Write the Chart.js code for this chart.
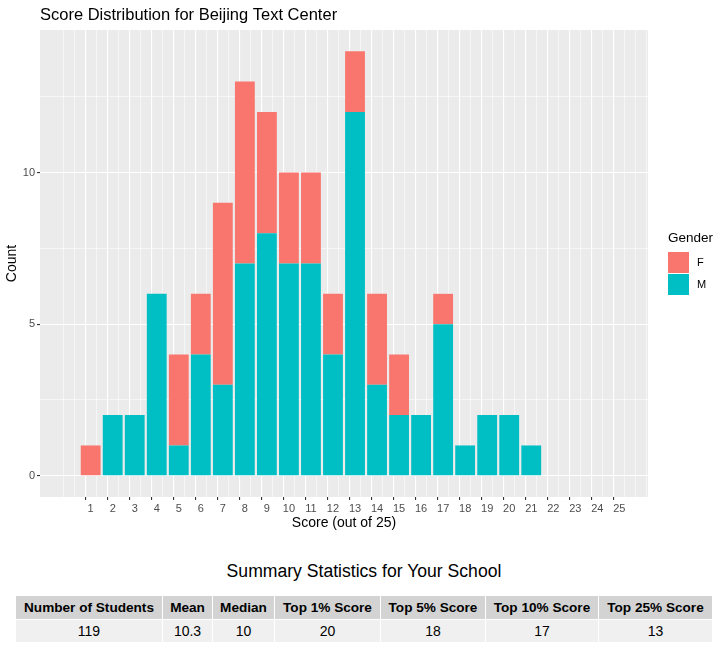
<!DOCTYPE html>
<html>
<head>
<meta charset="utf-8">
<script src="https://cdn.jsdelivr.net/npm/chart.js@4.4.1/dist/chart.umd.min.js"></script>
<style>
  body { margin: 0; background: #fff; font-family: "Liberation Sans", Arial, sans-serif; }
  #wrap { position: relative; width: 728px; height: 662px; }
  #chart { position: absolute; left: 0; top: 0; }
  #statTitle { position: absolute; top: 561px; left: 0; width: 728px; text-align: center; font-size: 17.6px; color: #000; }
  #stats { position: absolute; left: 15px; top: 595px; width: 697px; border-collapse: collapse; table-layout: fixed; }
  #stats th, #stats td { border: 1px solid #fff; text-align: center; padding: 0; color: #000; overflow: hidden; white-space: nowrap; }
  #stats th { background: #D3D3D3; height: 23px; font-weight: bold; font-size: 13.6px; }
  #stats td { background: #F0F0F0; height: 22px; font-size: 14px; }
</style>
</head>
<body>
<div id="wrap">
  <canvas id="chart" width="728" height="540"></canvas>
  <div id="statTitle">Summary Statistics for Your School</div>
  <table id="stats"><colgroup id="statCols"></colgroup><thead><tr id="statHead"></tr></thead><tbody><tr id="statBody"></tr></tbody></table>
</div>
<script>
// --- data ---
const scores = [1, 2, 3, 4, 5, 6, 7, 8, 9, 10, 11, 12, 13, 14, 15, 16, 17, 18, 19, 20, 21, 22, 23, 24, 25];
const maleCounts   = [0, 2, 2, 6, 1, 4, 3, 7, 8, 7, 7, 4, 12, 3, 2, 2, 5, 1, 2, 2, 1, 0, 0, 0, 0];
const femaleCounts = [1, 0, 0, 0, 3, 2, 6, 6, 4, 3, 3, 2, 2, 3, 2, 0, 1, 0, 0, 0, 0, 0, 0, 0, 0];
const yTickLabels = [0, 5, 10];

const statHeaders = ["Number of Students", "Mean", "Median", "Top 1% Score", "Top 5% Score", "Top 10% Score", "Top 25% Score"];
const statValues  = ["119", "10.3", "10", "20", "18", "17", "13"];
const statWidths  = [147, 50, 62, 106, 105, 113, 114];

const FONT = '"Liberation Sans", Arial, sans-serif';

// summary table
const cols = document.getElementById("statCols");
const headRow = document.getElementById("statHead");
const bodyRow = document.getElementById("statBody");
statHeaders.forEach((h, i) => {
  const col = document.createElement("col");
  col.style.width = statWidths[i] + "px";
  cols.appendChild(col);
  const th = document.createElement("th");
  th.textContent = h;
  headRow.appendChild(th);
  const td = document.createElement("td");
  td.textContent = statValues[i];
  bodyRow.appendChild(td);
});

// grey panel, ggplot style
const panelBg = {
  id: "panelBg",
  beforeDraw(chart) {
    const { ctx, chartArea: a } = chart;
    ctx.save();
    ctx.fillStyle = "#EBEBEB";
    ctx.fillRect(a.left, a.top, a.right - a.left, a.bottom - a.top);
    ctx.restore();
  }
};

// title + legend drawn by hand
const extras = {
  id: "extras",
  afterDraw(chart) {
    const ctx = chart.ctx;
    ctx.save();
    ctx.fillStyle = "#000";
    ctx.textBaseline = "middle";
    ctx.textAlign = "left";
    ctx.font = "16.5px " + FONT;
    ctx.fillText("Score Distribution for Beijing Text Center", 40, 15);

    ctx.font = "13.5px " + FONT;
    ctx.fillText("Gender", 668, 238);
    const ds = chart.data.datasets.slice().reverse();
    ds.forEach((d, i) => {
      const y = 252 + i * 22;
      ctx.fillStyle = d.backgroundColor;
      ctx.fillRect(668, y, 21, 21);
      ctx.fillStyle = "#000";
      ctx.font = "11px " + FONT;
      ctx.fillText(d.label, 697, y + 11);
    });
    ctx.restore();
  }
};

const xGrid = [];
for (let v = 0; v <= 26; v += 0.5) xGrid.push(v);
const yGrid = [0, 2.5, 5, 7.5, 10, 12.5];

const isMajorX = (ctx) => ctx.tick && scores.includes(ctx.tick.value);
const isMajorY = (ctx) => ctx.tick && yTickLabels.includes(ctx.tick.value);

new Chart(document.getElementById("chart"), {
  type: "bar",
  data: {
    labels: scores,
    datasets: [
      { label: "M", data: maleCounts, backgroundColor: "#00BFC4" },
      { label: "F", data: femaleCounts, backgroundColor: "#F8766D" }
    ]
  },
  options: {
    responsive: false,
    animation: false,
    layout: { padding: { top: 30, right: 80, left: 0, bottom: 0 } },
    // ruler picks up the half-step grid ticks, so 1.8 = 0.9 of one score step
    datasets: { bar: { categoryPercentage: 1, barPercentage: 1.8, borderWidth: 0 } },
    scales: {
      x: {
        type: "linear",
        stacked: true,
        min: -1.3,
        max: 26.3,
        offset: false,
        afterBuildTicks: (s) => { s.ticks = xGrid.map(v => ({ value: v })); },
        afterFit: (s) => { s.height = 43; },
        border: { display: false },
        grid: {
          color: "#FFFFFF",
          lineWidth: (c) => isMajorX(c) ? 1.1 : 0.55,
          tickColor: (c) => isMajorX(c) ? "#333333" : "rgba(0,0,0,0)",
          tickWidth: 1.1,
          tickLength: 3
        },
        ticks: {
          autoSkip: false,
          maxRotation: 0,
          padding: 2,
          color: "#4D4D4D",
          font: { family: FONT, size: 11 },
          callback: (v) => scores.includes(v) ? String(v) : ""
        },
        title: {
          display: true,
          text: "Score (out of 25)",
          color: "#000",
          font: { family: FONT, size: 14 },
          padding: { top: 0, bottom: 8 }
        }
      },
      y: {
        stacked: true,
        min: -0.7,
        max: 14.7,
        afterBuildTicks: (s) => { s.ticks = yGrid.map(v => ({ value: v })); },
        afterFit: (s) => { s.width = 40; },
        border: { display: false },
        grid: {
          color: "#FFFFFF",
          lineWidth: (c) => isMajorY(c) ? 1.1 : 0.55,
          tickColor: (c) => isMajorY(c) ? "#333333" : "rgba(0,0,0,0)",
          tickWidth: 1.1,
          tickLength: 3
        },
        ticks: {
          autoSkip: false,
          padding: 2,
          color: "#4D4D4D",
          font: { family: FONT, size: 11 },
          callback: (v) => yTickLabels.includes(v) ? String(v) : ""
        },
        title: {
          display: true,
          text: "Count",
          color: "#000",
          font: { family: FONT, size: 14 },
          padding: { top: 4, bottom: 0 }
        }
      }
    },
    plugins: {
      legend: { display: false },
      tooltip: { enabled: false }
    }
  },
  plugins: [panelBg, extras]
});
</script>
</body>
</html>
